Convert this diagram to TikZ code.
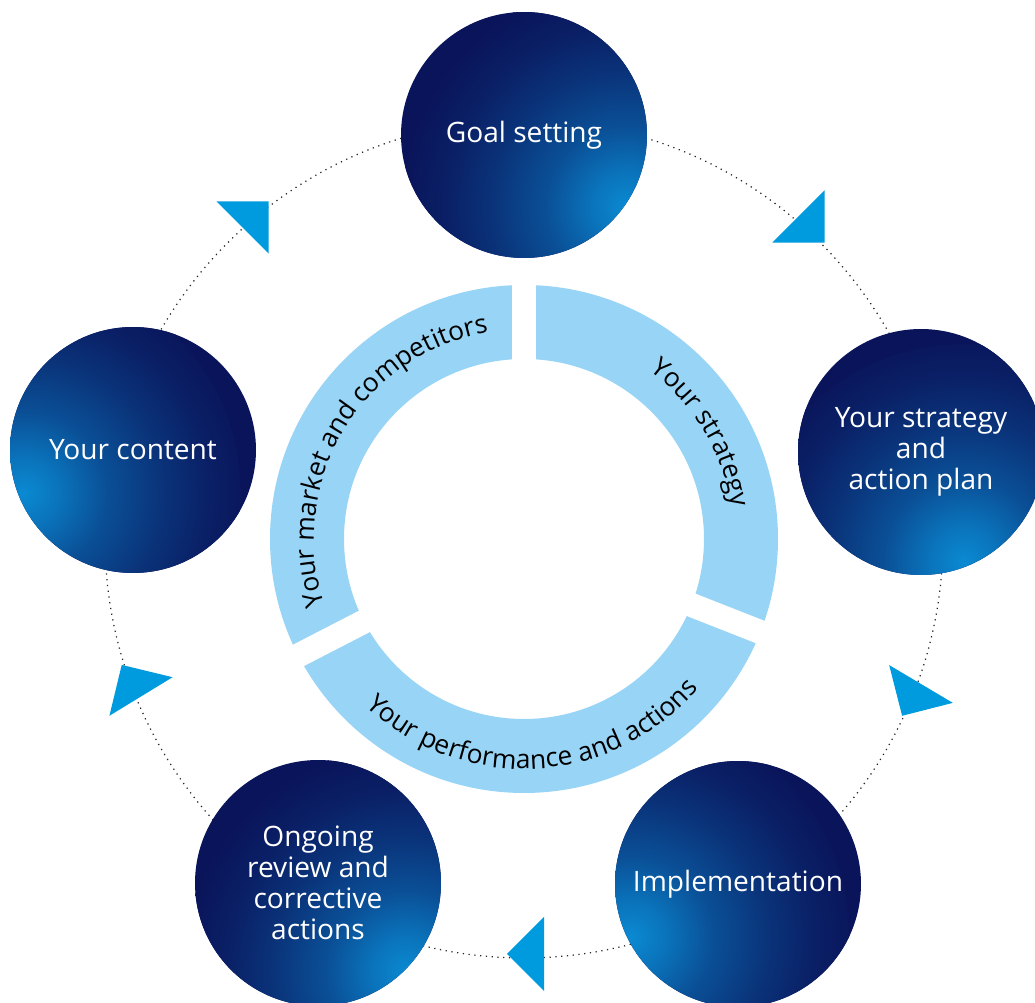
\documentclass[tikz,border=0pt]{standalone}
\usepackage{fontspec}
\setmainfont{Open Sans}
\usetikzlibrary{decorations.text}
\definecolor{navy}{HTML}{0A145A}
\definecolor{glow}{HTML}{0A8AD2}
\definecolor{ringblue}{HTML}{98D4F5}
\definecolor{arrowblue}{HTML}{009ADE}
\pgfdeclareradialshading{glowshade}{\pgfpointorigin}{color(0bp)=(glow); color(4bp)=(glow!80!navy); color(9bp)=(glow!50!navy); color(15bp)=(glow!26!navy); color(20bp)=(glow!10!navy); color(25bp)=(navy); color(50bp)=(navy)}
\tikzset{
  stage/.style={circle, minimum size=4.92cm, inner sep=0pt, fill=navy, text=white, align=center,
    font=\fontsize{16}{17.6}\selectfont,
    path picture={\shade[shading=glowshade] (path picture bounding box.center) ++(#1) circle (4.5cm);}},
  ringtext/.style={decorate, decoration={text along path, text align=center,
    text={|\fontsize{15}{15}\selectfont|#1}}},
  pointer/.style={fill=arrowblue}
}
\begin{document}
\begin{tikzpicture}[x=0.02cm,y=0.02cm]
  \useasboundingbox (0,0) rectangle (1035,1003);
  \clip (0,0) rectangle (1035,1003);
  \draw[black!85, line width=0.7pt, dash pattern=on 0.7pt off 2.6pt] (524,464) circle (419);
  \fill[ringblue, even odd rule] (524,464) circle (254) (524,464) circle (180);
  \foreach \a in {90,-21.5,-152.7}
    \draw[white, line width=0.48cm] (524,464) -- ++(\a:270);
  \path[ringtext=Your strategy] (524,464) ++(80:210) arc[start angle=80, end angle=-18, radius=210];
  \path[ringtext=Your market and competitors] (524,464) ++(198:210) arc[start angle=198, end angle=100, radius=210];
  \path[ringtext=Your performance and actions] (524,464) ++(-136:230) arc[start angle=-136, end angle=-38, radius=230];
  \foreach \mx/\my/\rot in {242.5/775.5/135, 798.5/786.5/45, 921/319/-30.7, 544/49/-90, 141/306.5/-148.6}
    \fill[pointer, shift={(\mx,\my)}, rotate=\rot] (-37,0) -- (37,0) -- (0,-37) -- cycle;
  \node[stage=-35:2.5cm] (goal) at (524,868) {Goal setting};
  \node[stage=-70:2.5cm] (strategy) at (921,551) {Your strategy\\and\\action plan};
  \node[stage=205:2.5cm] (implementation) at (738,119) {Implementation};
  \node[stage=-45:2.5cm] (review) at (318,120) {Ongoing\\review and\\corrective\\actions};
  \node[stage=200:2.5cm] (content) at (133,553) {Your content};
\end{tikzpicture}
\end{document}
